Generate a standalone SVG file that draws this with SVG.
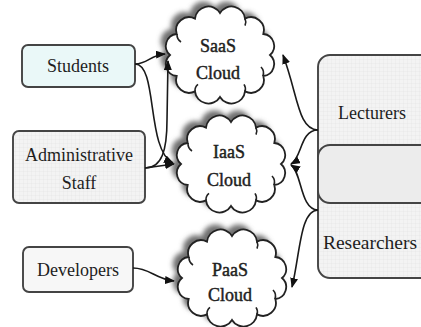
<svg xmlns="http://www.w3.org/2000/svg" width="421" height="327" viewBox="0 0 421 327">
<style>
.box{stroke:#444;stroke-width:1.9}
.lbl{font-family:'Liberation Serif','Times New Roman',serif;font-size:18px;fill:#1e1e1e;text-anchor:middle}
.cl{font-family:'Liberation Serif','Times New Roman',serif;font-size:18px;fill:#1e1e1e;text-anchor:middle;stroke:#1e1e1e;stroke-width:0.45}
.cloud{fill:#fff;stroke:#222;stroke-width:1.8}
.curl{fill:none;stroke:#222;stroke-width:1.6}
.shadow{fill:#707070;filter:url(#blur)}
.conn{fill:none;stroke:#1a1a1a;stroke-width:1.6}
</style>
<defs>
<filter id="blur" x="-20%" y="-20%" width="140%" height="140%"><feGaussianBlur stdDeviation="2.5"/></filter>
<pattern id="grid" width="4" height="4" patternUnits="userSpaceOnUse">
<rect width="4" height="4" fill="#f3f3f3"/>
<path d="M4 0V4M0 4H4" stroke="#e2e2e2" stroke-width="0.6"/>
</pattern>
<marker id="arr" markerWidth="10" markerHeight="8" refX="9" refY="4" orient="auto" markerUnits="userSpaceOnUse">
<path d="M0,0 L10,4 L0,8 Z" fill="#111"/>
</marker>
<path id="cloudShape" d="M0,-42 A13.5,13.5 0 0 1 25,-36.4 A13,13 0 0 1 43.3,-21 A12,12 0 0 1 50,0 A12,12 0 0 1 43.3,21 A13,13 0 0 1 25,36.4 A13.5,13.5 0 0 1 0,42 A13.5,13.5 0 0 1 -25,36.4 A13,13 0 0 1 -43.3,21 A12,12 0 0 1 -50,0 A12,12 0 0 1 -43.3,-21 A13,13 0 0 1 -25,-36.4 A13.5,13.5 0 0 1 0,-42 Z"/>
<path id="curls" d="M-43,-21 a9,9 0 0 0 4,8 M43,21 a9,9 0 0 0 -2,-9 M25,36.4 a8,8 0 0 0 -1,-7 M-25,36.4 a8,8 0 0 1 3,-7 M25,-36.4 a8,8 0 0 1 0,7"/>
</defs>

<g id="students">
<rect class="box" x="22" y="45" width="113" height="42" rx="6" fill="#eaf8f8"/>
<text class="lbl" x="78" y="72">Students</text>
</g>
<g id="admin">
<rect class="box" x="13" y="131" width="132" height="72" rx="6" fill="url(#grid)"/>
<text class="lbl" x="79" y="161">Administrative</text>
<text class="lbl" x="79" y="189">Staff</text>
</g>
<g id="developers">
<rect class="box" x="23" y="247" width="110" height="45" rx="6" fill="#f7f7f7"/>
<text class="lbl" x="78" y="276">Developers</text>
</g>

<g id="saas" transform="translate(220,55)">
<use href="#cloudShape" class="shadow" transform="translate(-5,-5)"/>
<use href="#cloudShape" class="cloud"/>
<use href="#curls" class="curl"/>
<text class="cl" x="-2" y="-3">SaaS</text>
<text class="cl" x="-2" y="24">Cloud</text>
</g>
<g id="iaas" transform="translate(231,164)">
<use href="#cloudShape" class="shadow" transform="translate(-5,-5)"/>
<use href="#cloudShape" class="cloud"/>
<use href="#curls" class="curl"/>
<text class="cl" x="-2" y="-6">IaaS</text>
<text class="cl" x="-2" y="22">Cloud</text>
</g>
<g id="paas" transform="translate(232,278)">
<use href="#cloudShape" class="shadow" transform="translate(-5,-5)"/>
<use href="#cloudShape" class="cloud"/>
<use href="#curls" class="curl"/>
<text class="cl" x="-2" y="-2">PaaS</text>
<text class="cl" x="-2" y="23">Cloud</text>
</g>

<g id="staff-group">
<rect class="box" x="318" y="55" width="115" height="223" rx="12" fill="url(#grid)"/>
<rect class="box" x="318" y="145" width="115" height="58" rx="12" fill="#ececec"/>
<text class="lbl" x="372" y="119">Lecturers</text>
<text class="lbl" x="370" y="249" style="font-size:19.5px">Researchers</text>
</g>

<g id="connectors">
<path class="conn" d="M135,64 C148,64 150,55 165,54" marker-end="url(#arr)"/>
<path class="conn" d="M135,64 C158,64 146,150 173,163" marker-end="url(#arr)"/>
<path class="conn" d="M145,168 C162,168 167,150 167,120 L168,61" marker-end="url(#arr)"/>
<path class="conn" d="M145,168 L174,164" marker-end="url(#arr)"/>
<path class="conn" d="M133,268 C150,268 155,279 174,281" marker-end="url(#arr)"/>
<path class="conn" d="M318,130 C298,130 298,95 283,55" marker-end="url(#arr)"/>
<path class="conn" d="M318,130 C300,130 302,158 291,164" marker-end="url(#arr)"/>
<path class="conn" d="M318,210 C300,210 302,172 291,165" marker-end="url(#arr)"/>
<path class="conn" d="M318,210 C300,210 300,255 292,287" marker-end="url(#arr)"/>
</g>
</svg>
